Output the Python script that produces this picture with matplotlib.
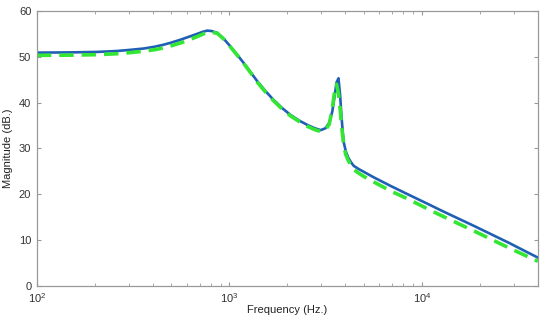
import matplotlib
matplotlib.use('Agg')
import matplotlib.pyplot as plt
import numpy as np

plt.rcParams['font.family'] = ['Liberation Sans', 'DejaVu Sans']

# 측정 주파수 (Hz)
freq = [100, 150, 205, 260, 305, 360, 410, 453, 500, 556, 620, 681, 730, 768,
        810, 866, 931, 1000, 1090, 1183, 1290, 1399, 1540, 1695, 1880, 2078,
        2300, 2548, 2780, 2978, 3150, 3300, 3420, 3520, 3600, 3685, 3760,
        3820, 3880, 3927, 4020, 4140, 4280, 4424, 4700, 4990, 5623, 6900,
        8450, 10740, 12560, 18660, 28050, 40000]

# 파란 실선
mag_blue = [50.9, 50.95, 51.05, 51.25, 51.5, 51.8, 52.2, 52.6, 53.1, 53.7,
            54.4, 55.0, 55.45, 55.7, 55.6, 55.2, 54.0, 52.5, 50.6, 48.7,
            46.6, 44.6, 42.5, 40.6, 38.8, 37.3, 36.1, 35.1, 34.4, 34.0, 34.4,
            35.6, 38.0, 41.5, 44.4, 45.3, 41.5, 37.0, 33.5, 31.3, 29.4, 28.0,
            27.0, 26.2, 25.5, 24.9, 23.7, 21.8, 20.0, 17.9, 16.5, 13.1, 9.5,
            6.2]

# 초록 점선
mag_green = [50.3, 50.35, 50.45, 50.65, 50.9, 51.2, 51.55, 51.9, 52.4, 53.0,
             53.7, 54.4, 54.95, 55.3, 55.35, 55.1, 53.9, 52.4, 50.5, 48.6,
             46.5, 44.4, 42.3, 40.4, 38.6, 37.1, 35.9, 34.8, 34.1, 33.7, 34.0,
             35.3, 38.6, 42.5, 44.0, 42.0, 38.5, 35.0, 32.5, 30.5, 28.7, 27.4,
             26.3, 25.4, 24.6, 23.9, 22.7, 20.7, 19.0, 16.8, 15.4, 12.0, 8.4,
             5.4]

fig = plt.figure(figsize=(5.5, 3.2), dpi=100)
ax = fig.add_axes([0.067, 0.106, 0.911, 0.86])

ax.semilogx(freq, mag_blue, color='#1f5fb4', lw=1.9)
ax.semilogx(freq, mag_green, color='#33e633', lw=2.6, ls=(0, (4, 2.2)))

ax.set_xlim(100, 40000)
ax.set_ylim(0, 60)
ax.set_yticks(range(0, 61, 10))

ax.set_xlabel('Frequency (Hz.)', fontsize=8, color='#222222', labelpad=0)
ax.set_ylabel('Magnitude (dB.)', fontsize=8, color='#222222', labelpad=4)

for s in ax.spines.values():
    s.set_color('#999999')
    s.set_linewidth(0.9)
ax.tick_params(which='both', direction='in', top=True, right=True,
               colors='#999999', labelcolor='#333333', labelsize=8)
ax.tick_params(which='major', length=3)
ax.tick_params(which='minor', length=2)
ax.tick_params(axis='x', pad=3.5)
ax.tick_params(axis='y', pad=4)

plt.savefig('out.png', dpi=100)
